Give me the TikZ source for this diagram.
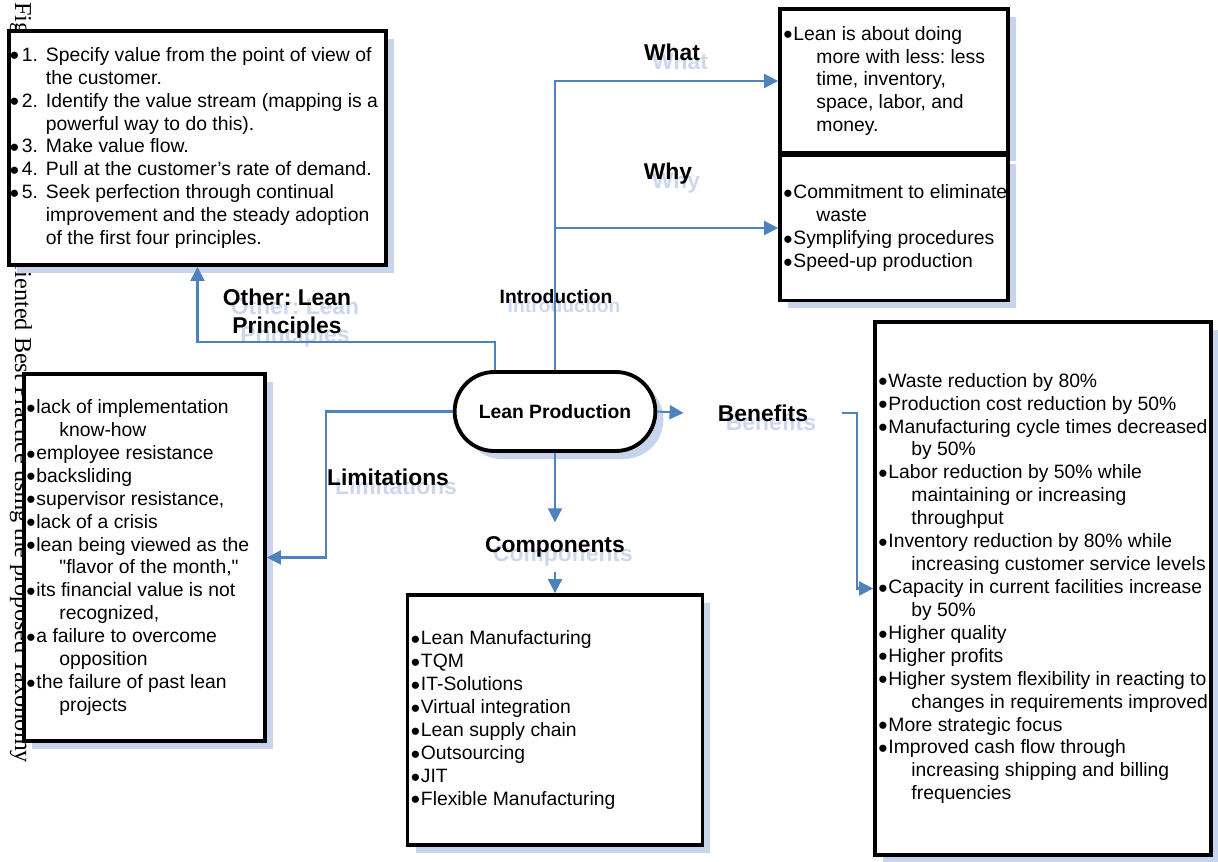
\documentclass[tikz,border=0pt]{standalone}
\usepackage{fontspec}
\setmainfont{Liberation Sans}[Ligatures=TeXOff]
\newfontfamily\capfont{Liberation Serif}
\usetikzlibrary{arrows.meta,positioning,shadows,shapes.misc}
\frenchspacing

\definecolor{linkblue}{RGB}{79,129,189}
\definecolor{shadowblue}{RGB}{200,212,236}
\definecolor{ghostblue}{RGB}{204,215,238}

% list helpers
\newcommand{\bigdot}{\raisebox{-2.1pt}{\fontsize{15}{13}\selectfont\textbullet}}
\newcommand{\bul}{\makebox[0.2cm][l]{\bigdot}}
\newcommand{\more}{\hspace*{0.66cm}}
\newcommand{\stepno}[1]{\makebox[0.24cm][l]{\bigdot}\makebox[0.48cm][l]{#1}}
% branch label with its light copy behind it
\newcommand{\branchtag}[4][]{%
  \node[ghost,#1] (#2g) at (#3) {#4};
  \node[tag,#1] (#2) at (#3) {#4};}

\begin{document}
\begin{tikzpicture}[x=0.02cm, y=-0.02cm,
    card/.style={rectangle, draw, line width=2.2pt, fill=white,
      drop shadow={shadow xshift=0.16cm, shadow yshift=-0.16cm, fill=shadowblue, opacity=1}},
    cardtext/.style={anchor=west, align=left, inner xsep=0.1cm, font=\fontsize{11}{13.05}\selectfont},
    tag/.style={font=\fontsize{13}{16}\selectfont\bfseries, align=center, inner xsep=0.68cm, inner ysep=0.28cm},
    ghost/.style={tag, text=ghostblue, xshift=0.16cm, yshift=-0.18cm},
    link/.style={draw=linkblue, line width=1.15pt, -{Triangle[length=0.28cm,width=0.28cm]}}
  ]
  \useasboundingbox (0,0) rectangle (1218,862);

  % caption behind the boxes
  \node[rotate=-90, anchor=west, inner sep=0, font=\capfont\fontsize{13.8}{16}\selectfont] (caption) at (21,2)
    {Figure 4: Lean Thinking Oriented Best Practice using the proposed Taxonomy};

  % boxes
  \node[card, minimum width=7.54cm, minimum height=4.68cm] (princ) at (197.5,148) {};
  \node[card, minimum width=4.56cm, minimum height=2.88cm] (what) at (894,81) {};
  \node[card, minimum width=4.56cm, minimum height=2.9cm] (why) at (894,228) {};
  \node[card, minimum width=4.82cm, minimum height=7.34cm] (lim) at (144.5,557.5) {};
  \node[card, minimum width=5.9cm, minimum height=5.0cm] (comp) at (555,720) {};
  \node[card, minimum width=6.72cm, minimum height=10.66cm] (ben) at (1043,588.5) {};
  \node[card, rounded rectangle, minimum width=4.25cm, minimum height=1.58cm,
    font=\fontsize{11}{13}\selectfont\bfseries] (lp) at (555,411.5) {Lean Production};

  \node[cardtext, inner xsep=0.05cm] (princtext) at (princ.west) {%
    \stepno{1.}Specify value from the point of view of\\
    \hspace*{0.72cm}the customer.\\
    \stepno{2.}Identify the value stream (mapping is a\\
    \hspace*{0.72cm}powerful way to do this).\\
    \stepno{3.}Make value flow.\\
    \stepno{4.}Pull at the customer’s rate of demand.\\
    \stepno{5.}Seek perfection through continual\\
    \hspace*{0.72cm}improvement and the steady adoption\\
    \hspace*{0.72cm}of the first four principles.};

  \node[cardtext] (whattext) at (what.west) {%
    \bul Lean is about doing\\
    \more more with less: less\\
    \more time, inventory,\\
    \more space, labor, and\\
    \more money.};

  \node[cardtext] (whytext) at (why.west) {%
    \bul Commitment to eliminate\\
    \more waste\\
    \bul Symplifying procedures\\
    \bul Speed-up production};

  \node[cardtext, inner xsep=0.08cm] (limtext) at (lim.west) {%
    \bul lack of implementation\\
    \more know-how\\
    \bul employee resistance\\
    \bul backsliding\\
    \bul supervisor resistance,\\
    \bul lack of a crisis\\
    \bul lean being viewed as the\\
    \more "flavor of the month,"\\
    \bul its financial value is not\\
    \more recognized,\\
    \bul a failure to overcome\\
    \more opposition\\
    \bul the failure of past lean\\
    \more projects};

  \node[cardtext] (comptext) at (comp.west) {%
    \bul Lean Manufacturing\\
    \bul TQM\\
    \bul IT-Solutions\\
    \bul Virtual integration\\
    \bul Lean supply chain\\
    \bul Outsourcing\\
    \bul JIT\\
    \bul Flexible Manufacturing};

  \node[cardtext] (bentext) at (ben.west) {%
    \bul Waste reduction by 80\%\\
    \bul Production cost reduction by 50\%\\
    \bul Manufacturing cycle times decreased\\
    \more by 50\%\\
    \bul Labor reduction by 50\% while\\
    \more maintaining or increasing\\
    \more throughput\\
    \bul Inventory reduction by 80\% while\\
    \more increasing customer service levels\\
    \bul Capacity in current facilities increase\\
    \more by 50\%\\
    \bul Higher quality\\
    \bul Higher profits\\
    \bul Higher system flexibility in reacting to\\
    \more changes in requirements improved\\
    \bul More strategic focus\\
    \bul Improved cash flow through\\
    \more increasing shipping and billing\\
    \more frequencies};

  % branch labels
  \branchtag{whatlbl}{672,52}{What}
  \branchtag{whylbl}{668,174}{Why}
  \branchtag[font=\fontsize{11}{13}\selectfont\bfseries]{introlbl}{556,297}{Introduction}
  \branchtag{princlbl}{287,314}{Other: Lean\\Principles}
  \branchtag{limlbl}{388,477}{Limitations}
  \branchtag{benlbl}{763,413}{Benefits}
  \branchtag{complbl}{555,547}{Components}

  % connectors
  \coordinate (princbend) at (495,342);
  \coordinate (limbend) at (326,411.5);
  \coordinate (benbend) at (857,413);
  \draw[link] (lp.north) |- (what.west);
  \draw[link] (lp.north |- why.west) -- (why.west);
  \draw[link] (lp.north -| princbend) -- (princbend) -| (princ.south);
  \draw[link] (lp.west) -- (limbend) |- (lim.east);
  \draw[link] (lp.east) -- (benlbl.west);
  \draw[link] (benlbl.east) -- (benlbl.east -| benbend) |- (ben.west);
  \draw[link] (lp.south) -- (complbl.north);
  \draw[link] (complbl.south) -- (comp.north);
\end{tikzpicture}
\end{document}
